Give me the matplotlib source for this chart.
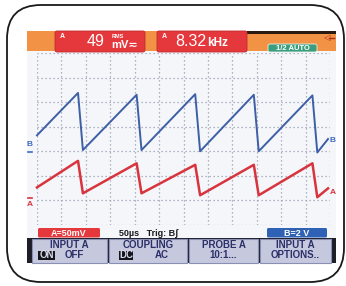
import numpy as np
import matplotlib
matplotlib.use("Agg")
import matplotlib.pyplot as plt
from matplotlib.patches import FancyBboxPatch, Rectangle

# 示波器读数 (Fluke ScopeMeter 截图)
time_us = [0, 84, 94, 204, 214, 324, 334, 444, 454, 564, 574, 596]   # 50 us/div
chan_b_v = [1.4, 4.85, 0.2, 4.7, 0.2, 4.75, 0.1, 4.7, 0.1, 4.65, 0.0, 1.1]   # B = 2 V/div
chan_a_mv = [24, 78, 12, 73, 12, 70, 8, 70, 8, 73, 4, 22]   # A = 50 mV/div
ground_b = 2.95   # 地线标记位置 (div)
ground_a = 1.05
top_readings = ["49", "8.32"]
button_top = ["INPUT A", "COUPLING", "PROBE A", "INPUT A"]
button_bot = ["", "", "10:1...", "OPTIONS.."]

W, H = 346, 286
fig = plt.figure(figsize=(W / 100, H / 100), dpi=100)
fig.patch.set_facecolor("white")
bg = fig.add_axes([0, 0, 1, 1])
bg.set_xlim(0, W)
bg.set_ylim(H, 0)
bg.axis("off")

font = ["Liberation Sans", "DejaVu Sans"]

# 外框
bg.add_patch(FancyBboxPatch((7, 5), 337, 277, boxstyle="round,pad=0,rounding_size=34",
                            fc="white", ec="#1a1a1a", lw=1.3))
# 屏幕
bg.add_patch(Rectangle((27, 31), 309, 232, fc="#f5f6f9", ec="none"))
bg.add_patch(Rectangle((27, 31), 309, 20, fc="#f29244", ec="none"))
bg.add_patch(Rectangle((247, 31), 89, 2.5, fc="#2a1a10", ec="none"))

# 顶部读数框
for x0, w in [(55, 90), (157, 90)]:
    bg.add_patch(FancyBboxPatch((x0, 31), w, 21, boxstyle="round,pad=0,rounding_size=2",
                                fc="#e5383c", ec="#c02a30", lw=0.6))
    bg.text(x0 + 5, 36, "A", color="white", fontsize=5, fontweight="bold",
            ha="left", va="center", family=font)
bg.text(87, 41.5, top_readings[0], color="white", fontsize=11.5, ha="left", va="center", family=font)
bg.text(112, 36, "RMS", color="white", fontsize=4, fontweight="bold", ha="left", va="center", family=font)
bg.text(111, 44.5, "mV≂", color="white", fontsize=8, fontweight="bold", ha="left", va="center", family=font)
bg.text(175, 41.5, top_readings[1], color="white", fontsize=11.5, ha="left", va="center", family=font)
bg.text(207, 43, "kHz", color="white", fontsize=8.5, fontweight="bold", ha="left", va="center", family=font)

bg.add_patch(FancyBboxPatch((268, 44), 49, 8, boxstyle="round,pad=0,rounding_size=2",
                            fc="#3a9e7e", ec="#e8f0ea", lw=0.6))
bg.text(292.5, 48.2, "1/2 AUTO", color="white", fontsize=5.5, fontweight="bold",
        ha="center", va="center", family=font)
bg.text(326, 38, "◁", color="#b02a1a", fontsize=6, ha="center", va="center")
bg.plot([329, 334], [38, 38], color="#b02a1a", lw=1)

# 波形区
ax = fig.add_axes([37 / W, (H - 225) / H, 293 / W, 172 / H])
ax.set_facecolor("none")
ax.set_xlim(0, 600)
ax.set_ylim(0, 7)
ax.set_xticks(np.arange(0, 601, 50))
ax.set_yticks(np.arange(0, 8))
ax.tick_params(length=0, labelbottom=False, labelleft=False)
for s in ax.spines.values():
    s.set_visible(False)
ax.grid(True, color="#96a0b4", linestyle=(0, (1, 2.2)), linewidth=0.9)

t = np.array(time_us)
ax.plot(t, ground_b + np.array(chan_b_v) / 2.0, color="#3d5fa6", lw=1.4, clip_on=False)
ax.plot(t, ground_a + np.array(chan_a_mv) / 50.0, color="#d8343e", lw=1.8, clip_on=False)

# 地线标记
bg.text(29.5, 145, "B", color="#3d6ac0", fontsize=6, fontweight="bold", ha="center", va="center", family=font)
bg.plot([27.5, 31.5], [152, 152], color="#3d6ac0", lw=1.2)
bg.plot([27.5, 31.5], [198, 198], color="#d8343e", lw=1.2)
bg.text(29.5, 205, "A", color="#d8343e", fontsize=6, fontweight="bold", ha="center", va="center", family=font)
bg.text(333, 141, "B", color="#3d6ac0", fontsize=6, fontweight="bold", ha="center", va="center", family=font)
bg.text(333, 192, "A", color="#d8343e", fontsize=6, fontweight="bold", ha="center", va="center", family=font)

# 底部状态行
bg.add_patch(FancyBboxPatch((38, 228), 62, 9.5, boxstyle="round,pad=0,rounding_size=1.5",
                            fc="#e5383c", ec="none"))
bg.text(69, 233, "A=50mV", color="white", fontsize=6.5, fontweight="bold", ha="center", va="center", family=font)
bg.text(119, 233, "50µs   Trig: Bʃ", color="#1a1a1a", fontsize=6.5, fontweight="bold",
        ha="left", va="center", family=font)
bg.add_patch(FancyBboxPatch((267, 228), 60, 9.5, boxstyle="round,pad=0,rounding_size=1.5",
                            fc="#2f62b4", ec="none"))
bg.text(297, 233, "B=2 V", color="white", fontsize=6.5, fontweight="bold", ha="center", va="center", family=font)

# 软键
bg.add_patch(Rectangle((27, 238), 309, 25, fc="#1e1e28", ec="none"))
buttons = [(32, 75), (109, 78), (189, 69), (260, 71)]
for (x0, w), top, bot in zip(buttons, button_top, button_bot):
    bg.add_patch(Rectangle((x0, 238.5), w, 24, fc="#c6c9de", ec="#8a90b4", lw=0.8))
    bg.text(x0 + w / 2, 244.5, top, color="#2c2f68", fontsize=7, fontweight="bold",
            ha="center", va="center", family=font)
    if bot:
        bg.text(x0 + w / 2, 255.5, bot, color="#2c2f68", fontsize=7, fontweight="bold",
                ha="center", va="center", family=font)

bg.add_patch(Rectangle((38, 251), 17, 8.5, fc="#15151c", ec="none"))
bg.text(46.5, 255.5, "ON", color="#d8dae8", fontsize=7, fontweight="bold", ha="center", va="center", family=font)
bg.text(74, 255.5, "OFF", color="#2c2f68", fontsize=7, fontweight="bold", ha="center", va="center", family=font)
bg.add_patch(Rectangle((119, 251), 14, 8.5, fc="#15151c", ec="none"))
bg.text(126, 255.5, "DC", color="#d8dae8", fontsize=7, fontweight="bold", ha="center", va="center", family=font)
bg.text(162, 255.5, "AC", color="#2c2f68", fontsize=7, fontweight="bold", ha="center", va="center", family=font)

fig.savefig("out.png", dpi=100)
